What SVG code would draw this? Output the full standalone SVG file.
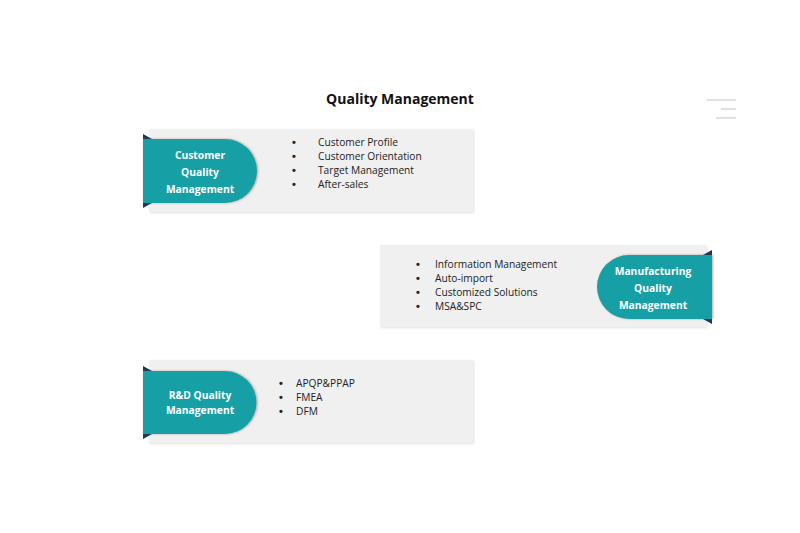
<svg xmlns="http://www.w3.org/2000/svg" width="800" height="533" viewBox="0 0 800 533">
<defs>
<filter id="sh" x="-5%" y="-10%" width="110%" height="120%"><feDropShadow dx="1" dy="1" stdDeviation="1.2" flood-color="#000" flood-opacity="0.12"/></filter>
<filter id="ts" x="-10%" y="-10%" width="120%" height="120%"><feDropShadow dx="1" dy="0" stdDeviation="0.8" flood-color="#6b3a20" flood-opacity="0.45"/></filter>
</defs>
<style>
.panel{fill:#f0f0f0;filter:url(#sh)}
.pill{fill:#17a0a6;filter:url(#ts)}
.fold{fill:#1b3a55}
.lbl{font-family:"Open Sans","Liberation Sans",sans-serif;font-size:10.3px;font-weight:bold;fill:#fff;text-anchor:middle}
.item{font-family:"Open Sans","Liberation Sans",sans-serif;font-size:10.2px;fill:#222}
.bul{font-family:"Liberation Sans",sans-serif;font-size:11px;font-weight:bold;fill:#222}
.title{font-family:"Open Sans","Liberation Sans",sans-serif;font-size:14px;font-weight:bold;fill:#111;text-anchor:middle}
.menu{stroke:#e2e2e2;stroke-width:2.2}
</style>
<rect width="800" height="533" fill="#fff"/>
<text class="title" x="400" y="104">Quality Management</text>
<g id="menu-icon">
<line class="menu" x1="707" y1="100" x2="736" y2="100"/>
<line class="menu" x1="721" y1="109" x2="736" y2="109"/>
<line class="menu" x1="716" y1="118" x2="736" y2="118"/>
</g>
<g id="customer-quality">
<rect class="panel" x="149" y="129" width="324" height="83"/>
<polygon class="fold" points="143,134 152,139 143,139"/>
<polygon class="fold" points="143,203 152,203 143,208"/>
<path class="pill" d="M143,139 H225 A32,32 0 0 1 225,203 H143 Z"/>
<text class="lbl" x="200" y="159">Customer</text>
<text class="lbl" x="200" y="176">Quality</text>
<text class="lbl" x="200" y="193">Management</text>
<text class="bul" x="292" y="146">•</text><text class="item" x="318" y="146">Customer Profile</text>
<text class="bul" x="292" y="160">•</text><text class="item" x="318" y="160">Customer Orientation</text>
<text class="bul" x="292" y="174">•</text><text class="item" x="318" y="174">Target Management</text>
<text class="bul" x="292" y="188">•</text><text class="item" x="318" y="188">After-sales</text>
</g>
<g id="manufacturing-quality">
<rect class="panel" x="380" y="245" width="326" height="82"/>
<polygon class="fold" points="712,250 703,255 712,255"/>
<polygon class="fold" points="712,319 703,319 712,324"/>
<path class="pill" d="M712,255 H629 A32,32 0 0 0 629,319 H712 Z"/>
<text class="lbl" x="653" y="275">Manufacturing</text>
<text class="lbl" x="653" y="292">Quality</text>
<text class="lbl" x="653" y="309">Management</text>
<text class="bul" x="416" y="268">•</text><text class="item" x="435" y="268">Information Management</text>
<text class="bul" x="416" y="282">•</text><text class="item" x="435" y="282">Auto-import</text>
<text class="bul" x="416" y="296">•</text><text class="item" x="435" y="296">Customized Solutions</text>
<text class="bul" x="416" y="310">•</text><text class="item" x="435" y="310">MSA&amp;SPC</text>
</g>
<g id="rd-quality">
<rect class="panel" x="149" y="360" width="324" height="83"/>
<polygon class="fold" points="143,366 152,371 143,371"/>
<polygon class="fold" points="143,434 152,434 143,439"/>
<path class="pill" d="M143,371 H225 A31.5,31.5 0 0 1 225,434 H143 Z"/>
<text class="lbl" x="200" y="399">R&amp;D Quality</text>
<text class="lbl" x="200" y="414">Management</text>
<text class="bul" x="279" y="387">•</text><text class="item" x="296" y="387">APQP&amp;PPAP</text>
<text class="bul" x="279" y="401">•</text><text class="item" x="296" y="401">FMEA</text>
<text class="bul" x="279" y="415">•</text><text class="item" x="296" y="415">DFM</text>
</g>
<g id="connectors"></g>
</svg>
